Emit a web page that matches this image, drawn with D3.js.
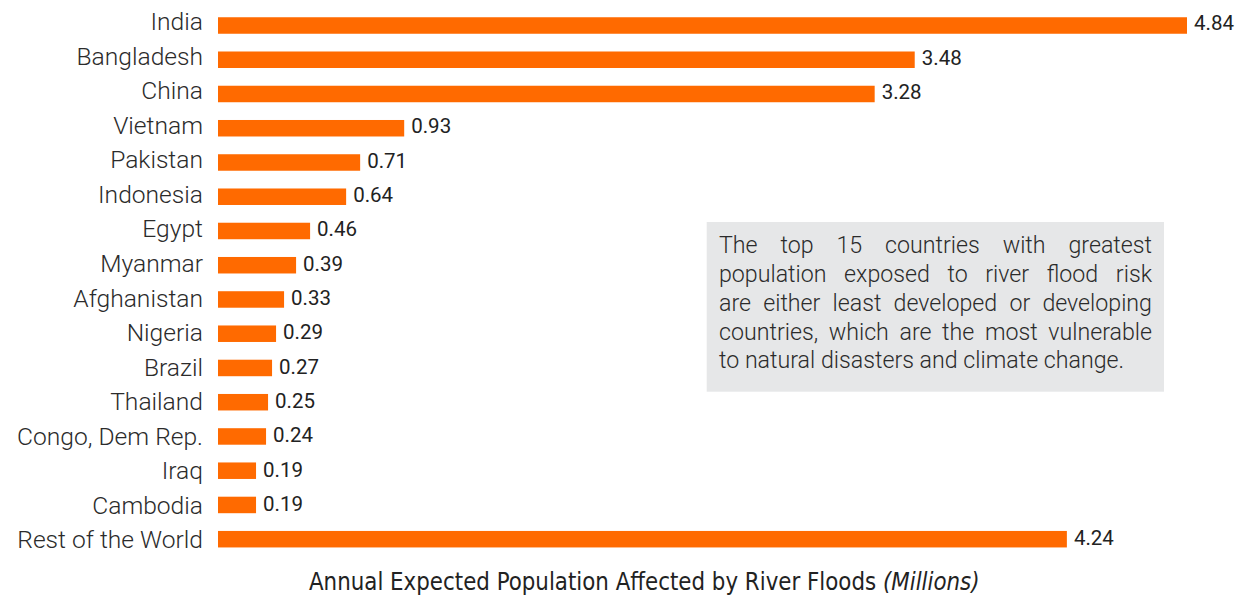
<!DOCTYPE html>
<html>
<head>
<meta charset="utf-8">
<script src="https://cdn.jsdelivr.net/npm/d3@7"></script>
<style>
  html, body { margin: 0; padding: 0; background: #ffffff; }
  svg { display: block; }
</style>
</head>
<body>
<svg id="chart" width="1242" height="597"></svg>
<script>
const categories = ["India", "Bangladesh", "China", "Vietnam", "Pakistan", "Indonesia", "Egypt", "Myanmar",
  "Afghanistan", "Nigeria", "Brazil", "Thailand", "Congo, Dem Rep.", "Iraq", "Cambodia", "Rest of the World"];
const values = [4.84, 3.48, 3.28, 0.93, 0.71, 0.64, 0.46, 0.39, 0.33, 0.29, 0.27, 0.25, 0.24, 0.19, 0.19, 4.24];
const valueLabels = ["4.84", "3.48", "3.28", "0.93", "0.71", "0.64", "0.46", "0.39", "0.33", "0.29", "0.27", "0.25", "0.24", "0.19", "0.19", "4.24"];
const axisTitle = "Annual Expected Population Affected by River Floods";
const axisUnit = "(Millions)";
const noteLines = [
  "The top 15 countries with greatest",
  "population exposed to river flood risk",
  "are either least developed or developing",
  "countries, which are the most vulnerable",
  "to natural disasters and climate change."
];

const svg = d3.select("#chart");
const barColor = "#FF6A00";

const x = d3.scaleLinear().domain([0, 4.84]).range([218, 1187]);
const y = d3.scalePoint().domain(categories).range([25.5, 539.2]);
const yLabel = d3.scalePoint().domain(categories).range([20.8, 539]);
const yValue = d3.scalePoint().domain(categories).range([22.8, 538]);
const barH = 16.5;

// bars
svg.append("g").selectAll("rect")
  .data(categories)
  .join("rect")
  .attr("x", x(0))
  .attr("y", (d) => y(d) - barH / 2)
  .attr("width", (d, i) => x(values[i]) - x(0))
  .attr("height", barH)
  .attr("fill", barColor);

// category axis (labels only)
const yAxis = d3.axisLeft(yLabel).tickSize(0).tickPadding(0);
const gy = svg.append("g").attr("transform", "translate(203,0)").call(yAxis);
gy.select(".domain").remove();
gy.selectAll("text")
  .attr("font-family", "Roboto, 'Liberation Sans', sans-serif")
  .attr("font-weight", 300)
  .attr("font-size", 24.6)
  .attr("fill", "#2b2b2b")
  .attr("dy", "0.36em");

// value labels
svg.append("g").selectAll("text")
  .data(categories)
  .join("text")
  .attr("x", (d, i) => x(values[i]) + 7)
  .attr("y", (d) => yValue(d))
  .attr("dy", "0.36em")
  .attr("font-family", "Roboto, 'Liberation Sans', sans-serif")
  .attr("font-size", 20.5)
  .attr("fill", "#222")
  .text((d, i) => valueLabels[i]);

// annotation box
const box = { x0: 706.7, y0: 222, x1: 1164, y1: 391.7 };
svg.append("rect")
  .attr("x", box.x0).attr("y", box.y0)
  .attr("width", box.x1 - box.x0).attr("height", box.y1 - box.y0)
  .attr("fill", "#E6E7E8");

const textLeft = 719, textRight = 1152, firstBase = 253.3, lineStep = 28.75;
const noteG = svg.append("g")
  .attr("font-family", "Roboto, 'Liberation Sans', sans-serif")
  .attr("font-weight", 300)
  .attr("font-size", 23.2)
  .attr("fill", "#2b2b2b");

noteLines.forEach((line, li) => {
  const words = line.split(" ");
  const by = firstBase + li * lineStep;
  const last = li === noteLines.length - 1;
  const nodes = words.map((w) => noteG.append("text").attr("y", by).text(w));
  const widths = nodes.map((n) => n.node().getComputedTextLength());
  const total = d3.sum(widths);
  const t = noteG.append("text").text("a a");
  const t2 = noteG.append("text").text("aa");
  const spaceW = t.node().getComputedTextLength() - t2.node().getComputedTextLength();
  t.remove(); t2.remove();
  const gap = last ? spaceW : (textRight - textLeft - total) / (words.length - 1);
  let cx = textLeft;
  nodes.forEach((n, i) => { n.attr("x", cx); cx += widths[i] + gap; });
});

// axis title
const title = svg.append("text")
  .attr("x", 0).attr("y", 0)
  .attr("font-family", "'Liberation Sans Narrow', 'DejaVu Sans Condensed', 'Liberation Sans', sans-serif")
  .attr("font-size", 24)
  .attr("fill", "#222");
title.append("tspan").text(axisTitle + " ");
title.append("tspan").attr("font-style", "italic").text(axisUnit);
const tw = title.node().getComputedTextLength();
const targetW = 671, cxT = 644.5, baseY = 590;
const sx = targetW / tw;
title.attr("transform", `translate(${cxT - targetW / 2},${baseY}) scale(${sx},1)`);
</script>
</body>
</html>
